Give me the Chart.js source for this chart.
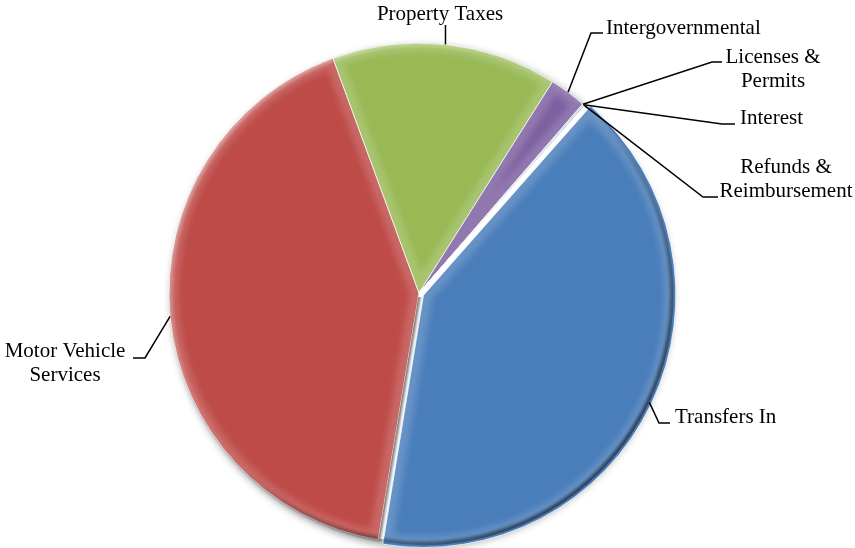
<!DOCTYPE html>
<html><head><meta charset="utf-8">
<script src="https://cdn.jsdelivr.net/npm/chart.js@4"></script>
<style>html,body{margin:0;padding:0;background:#fff;}canvas{display:block}</style>
</head><body>
<canvas id="c" width="855" height="548"></canvas>
<script>
const categories = ["Transfers In","Motor Vehicle Services","Property Taxes","Intergovernmental","Licenses & Permits","Interest","Refunds & Reimbursement"];
const values = [41.1, 41.8, 14.56, 2.39, 0.06, 0.03, 0.05];
const labelLines = [["Transfers In"],["Motor Vehicle","Services"],["Property Taxes"],["Intergovernmental"],["Licenses &","Permits"],["Interest"],["Refunds &","Reimbursement"]];
const colors = ['#4A7EBB','#BE4B48','#98B954','#7D60A0','#46AAC5','#F69240','#2C4D75'];
const offsets = [20,0,0,0,0,0,0];

// label layout: elbow point, end of horizontal, text x, alignment, baselines
const labelLayout = [
  {elbow:[659,423], end:[670,423], tx:675, align:'left',   base:[423]},
  {elbow:[145,358], end:[133,358], tx:65,  align:'center', base:[357,381]},
  {elbow:null,      endY:25,       tx:440, align:'center', base:[20]},
  {elbow:[591,33],  end:[603,33],  tx:606, align:'left',   base:[34]},
  {elbow:[712,62],  end:[722,62],  tx:773, align:'center', base:[63,87]},
  {elbow:[722,124], end:[735,124], tx:740, align:'left',   base:[124]},
  {elbow:[703,197], end:[718,197], tx:786, align:'center', base:[173,197]}
];

function arcGeom(el){
  const off=(el.options.offset||0)/4;
  const half=(el.startAngle+el.endAngle)/2;
  return {cx:el.x+Math.cos(half)*off, cy:el.y+Math.sin(half)*off, r:el.outerRadius, s:el.startAngle, e:el.endAngle, half};
}

const effects = {
  id:'effects',
  beforeDatasetsDraw(chart){
    const a = chart.getDatasetMeta(0).data[0];
    const ctx = chart.ctx;
    ctx.save();
    ctx.beginPath(); ctx.rect(0,0,chart.width,chart.height);
    ctx.arc(a.x, a.y, a.outerRadius-1, 0, Math.PI*2, true);
    ctx.clip('evenodd');
    ctx.shadowColor='rgba(0,0,0,0.45)';
    ctx.shadowBlur=8;
    ctx.shadowOffsetX=10000+3; ctx.shadowOffsetY=4;
    ctx.beginPath(); ctx.arc(a.x-10000, a.y, a.outerRadius, 0, Math.PI*2);
    ctx.fillStyle='#000'; ctx.fill();
    ctx.restore();
  },
  afterDatasetsDraw(chart){
    const ctx = chart.ctx;
    const arcs = chart.getDatasetMeta(0).data;
    // shadow cast by the Motor Vehicle slice onto the gap / Transfers In edge below the centre
    {
      const g = arcGeom(arcs[1]);
      ctx.save();
      ctx.beginPath(); ctx.rect(0,g.cy+4,chart.width,chart.height);
      ctx.clip();
      ctx.beginPath(); ctx.rect(0,0,chart.width,chart.height);
      ctx.moveTo(g.cx,g.cy); ctx.arc(g.cx,g.cy,g.r,g.s,g.e); ctx.closePath();
      ctx.clip('evenodd');
      ctx.shadowColor='rgba(0,0,0,0.55)'; ctx.shadowBlur=3;
      ctx.shadowOffsetX=10000+2; ctx.shadowOffsetY=1;
      ctx.beginPath(); ctx.moveTo(g.cx-10000,g.cy); ctx.arc(g.cx-10000,g.cy,g.r,g.s,g.e); ctx.closePath();
      ctx.fillStyle='#000'; ctx.fill();
      ctx.restore();
    }
    arcs.forEach((el)=>{
      const g = arcGeom(el);
      if (g.e - g.s < 0.02) return;
      const path = ()=>{ctx.beginPath(); ctx.moveTo(g.cx,g.cy); ctx.arc(g.cx,g.cy,g.r,g.s,g.e); ctx.closePath();};
      ctx.save();
      path(); ctx.clip();
      ctx.filter='blur(3px)';
      path(); ctx.lineWidth=18; ctx.strokeStyle='rgba(255,255,255,0.16)'; ctx.stroke();
      const grad = ctx.createLinearGradient(g.cx-g.r*0.7, g.cy-g.r*0.7, g.cx+g.r*0.7, g.cy+g.r*0.7);
      grad.addColorStop(0,'rgba(255,255,255,0.35)');
      grad.addColorStop(0.45,'rgba(255,255,255,0.05)');
      grad.addColorStop(0.6,'rgba(0,0,0,0.15)');
      grad.addColorStop(1,'rgba(0,0,0,0.55)');
      ctx.filter='blur(1.5px)';
      ctx.beginPath(); ctx.arc(g.cx,g.cy,g.r,g.s,g.e); ctx.lineWidth=7; ctx.strokeStyle=grad; ctx.stroke();
      ctx.restore();
    });
  },
  afterDraw(chart){
    const ctx = chart.ctx;
    ctx.save();
    ctx.strokeStyle='#000'; ctx.lineWidth=1.5; ctx.fillStyle='#000';
    ctx.font='21px "Liberation Serif", "Times New Roman", serif';
    ctx.textBaseline='alphabetic';
    chart.getDatasetMeta(0).data.forEach((el,i)=>{
      const g = arcGeom(el);
      const ax = g.cx + Math.cos(g.half)*g.r, ay = g.cy + Math.sin(g.half)*g.r;
      const L = labelLayout[i];
      ctx.beginPath(); ctx.moveTo(ax,ay);
      if (L.elbow){ ctx.lineTo(L.elbow[0],L.elbow[1]); ctx.lineTo(L.end[0],L.end[1]); }
      else { ctx.lineTo(ax, L.endY); }
      ctx.stroke();
      ctx.textAlign=L.align;
      labelLines[i].forEach((t,k)=>ctx.fillText(t, L.tx, L.base[k]));
    });
    ctx.restore();
  }
};

new Chart(document.getElementById('c'), {
  type:'pie',
  data:{labels:categories, datasets:[{data:values, backgroundColor:colors, borderColor:'rgba(255,255,255,0.7)', borderWidth:1, offset:offsets}]},
  options:{
    responsive:false, animation:false, radius:250, rotation:41.4,
    layout:{padding:{top:38,bottom:0,left:0,right:17}},
    plugins:{legend:{display:false}, tooltip:{enabled:false}}
  },
  plugins:[effects]
});
</script>
</body></html>
